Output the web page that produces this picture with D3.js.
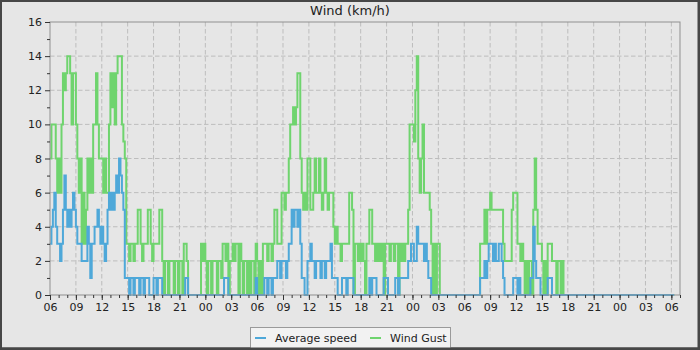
<!DOCTYPE html>
<html lang="en">
<head>
  <meta charset="UTF-8">
  <title>Wind (km/h)</title>
  <script src="https://d3js.org/d3.v7.min.js"></script>
  <style>
    body { margin: 0; }
    svg { display: block; font-family: "DejaVu Sans", sans-serif; }
    .tick text { font-size: 11px; fill: #222; }
    .tick line { stroke: #333; }
    .grid { stroke: #bdbdbd; stroke-width: 1; stroke-dasharray: 4.5,2.5; }
  </style>
</head>
<body>
<svg id="chart" width="700" height="350"></svg>
<script>
// samples every 10 minutes, starting 06:00 on day 1
const startTime = new Date(2024, 0, 1, 6, 0);
const endTime = new Date(2024, 0, 4, 7, 0);
const stepMinutes = 10;

const chartTitle = "Wind (km/h)";
const seriesNames = ["Average speed", "Wind Gust"];
const yTicks = [0, 2, 4, 6, 8, 10, 12, 14, 16];
const yMinorTicks = [1, 3, 5, 7, 9, 11, 13, 15];

// average speed, one row = 6 hours (6 samples per hour)
const avgSpeed = [
  3,4,5,6,4,3, 3,2,3,5,7,5, 4,5,4,5,6,5, 4,3,3,3,2,2, 2,2,4,3,1,3, 3,4,4,5,4,3,   // 06-12
  4,3,2,3,5,6, 5,6,5,6,7,6, 8,7,6,5,1,1, 1,0,1,1,0,1, 1,1,0,1,1,0, 1,1,1,0,0,0,   // 12-18
  1,1,0,1,1,1, 0,0,0,0,0,0, 0,0,0,0,0,0, 0,0,0,0,1,1, 0,0,0,0,0,0, 0,0,0,0,0,0,   // 18-00
  0,0,0,0,0,0, 0,0,0,0,0,0, 0,1,1,1,0,0, 0,0,0,0,0,0, 0,0,0,0,0,0, 0,0,0,0,0,1,   // 00-06
  0,0,0,0,0,1, 1,0,1,1,0,1, 1,1,2,2,1,2, 2,2,1,2,3,3, 5,4,5,5,4,5, 3,1,1,0,0,2,   // 06-12
  2,3,2,2,1,2, 2,2,1,2,2,1, 2,2,2,3,1,1, 1,1,0,0,0,1, 1,1,0,1,1,1, 1,0,0,0,0,0,   // 12-18
  0,0,0,0,0,0, 1,0,1,1,1,0, 0,0,0,0,1,1, 1,0,0,0,0,0, 1,1,0,1,1,1, 1,1,1,2,2,3,   // 18-00
  3,2,2,4,3,3, 3,3,2,3,2,1, 1,0,0,0,0,0, 0,0,0,0,0,0, 0,0,0,0,0,0, 0,0,0,0,0,0,   // 00-06
  0,0,0,0,0,0, 0,0,0,0,0,1, 1,1,2,1,2,3, 3,3,2,3,2,2, 3,3,2,1,0,0, 0,0,0,0,1,1,   // 06-12
  1,0,1,0,0,0, 0,0,0,0,1,1, 4,2,1,1,1,0, 0,0,0,0,1,1, 1,0,0,0,0,0, 0,0,0,0,0,0,   // 12-18
  0,0,0,0,0,0, 0,0,0,0,0,0, 0,0,0,0,0,0, 0,0,0,0,0,0, 0,0,0,0,0,0, 0,0,0,0,0,0,   // 18-00
  0,0,0,0,0,0, 0,0,0,0,0,0, 0,0,0,0,0,0, 0,0,0,0,0,0, 0,0,0,0,0,0, 0,0,0,0,0,0,   // 00-06
  0,0,0
];

// wind gust, same timing
const windGust = [
  8,10,10,10,8,6, 8,6,10,13,12,13, 14,14,13,10,13,13, 10,8,6,8,3,6, 3,5,8,6,8,6, 10,10,13,10,8,8,   // 06-12
  8,6,8,6,6,10, 13,11,13,10,13,14, 14,14,10,9,8,3, 3,2,3,3,2,3, 3,5,5,3,2,3, 3,3,5,5,3,2,          // 12-18
  3,3,3,3,5,5, 2,0,2,2,0,2, 2,2,0,2,2,0, 2,2,0,3,3,2, 0,0,0,0,0,0, 0,0,0,3,2,3,                    // 18-00
  2,0,2,2,0,2, 2,2,0,2,2,1, 3,3,2,3,0,2, 2,3,2,3,3,0, 3,2,0,2,2,0, 2,0,2,2,0,3,                    // 00-06
  2,0,2,0,3,3, 3,2,3,3,2,3, 5,5,3,3,3,6, 6,5,6,6,8,10, 10,11,10,11,13,13, 8,6,5,6,5,8,             // 06-12
  8,5,5,6,8,6, 6,8,6,5,6,8, 6,5,6,6,6,4, 3,4,3,3,2,3, 3,3,3,3,6,6, 5,0,3,3,2,3,                    // 12-18
  2,3,2,0,3,3, 5,5,3,3,2,3, 2,3,2,3,0,3, 3,3,2,3,3,2, 3,3,0,3,2,3, 2,3,3,5,10,10,                  // 18-00
  10,9,12,14,8,6, 8,10,6,6,6,6, 5,3,0,3,0,3, 3,0,0,0,0,0, 0,0,0,0,0,0, 0,0,0,0,0,0,                // 00-06
  0,0,0,0,0,0, 0,0,0,0,0,3, 3,3,5,3,5,5, 6,5,5,5,5,5, 5,5,5,3,2,2, 2,2,2,5,6,6,                    // 06-12
  6,3,3,2,3,2, 0,2,0,2,2,0, 5,8,5,3,3,3, 2,0,2,0,3,3, 3,2,2,2,0,2, 2,0,2,0,0,0,                    // 12-18
  0,0,0,0,0,0, 0,0,0,0,0,0, 0,0,0,0,0,0, 0,0,0,0,0,0, 0,0,0,0,0,0, 0,0,0,0,0,0,                    // 18-00
  0,0,0,0,0,0, 0,0,0,0,0,0, 0,0,0,0,0,0, 0,0,0,0,0,0, 0,0,0,0,0,0, 0,0,0,0,0,0,                    // 00-06
  0,0,0
];

const colors = { avg: "#4ea8d9", gust: "#6fd46e" };

const width = 700, height = 350;
const plot = { left: 50, right: 680, top: 22, bottom: 295 };

const svg = d3.select("#chart");

// frame + background
svg.append("rect").attr("width", width).attr("height", height).attr("fill", "#474747");
svg.append("rect").attr("x", 2).attr("y", 2).attr("width", 695.5).attr("height", 345.5).attr("fill", "#e6e6e6");

const x = d3.scaleTime().domain([startTime, endTime]).range([plot.left, plot.right]);
const y = d3.scaleLinear().domain([0, 16]).range([plot.bottom, plot.top]);

const timeAt = i => new Date(startTime.getTime() + i * stepMinutes * 60000);

// grid
const grid = svg.append("g");
grid.selectAll(".gx")
  .data(x.ticks(d3.timeHour.every(3)).filter(d => x(d) > plot.left + 1))
  .enter().append("line")
  .attr("class", "grid")
  .attr("x1", d => x(d)).attr("x2", d => x(d))
  .attr("y1", plot.top).attr("y2", plot.bottom);
grid.selectAll(".gy")
  .data(yTicks.filter(v => v > 0 && v < 16))
  .enter().append("line")
  .attr("class", "grid")
  .attr("x1", plot.left).attr("x2", plot.right)
  .attr("y1", d => y(d)).attr("y2", d => y(d));

// clip for lines
svg.append("clipPath").attr("id", "plotClip")
  .append("rect")
  .attr("x", plot.left).attr("y", plot.top - 2)
  .attr("width", plot.right - plot.left).attr("height", plot.bottom - plot.top + 4);

const line = d3.line()
  .x((d, i) => x(timeAt(i)))
  .y(d => y(d))
  .curve(d3.curveStepAfter);

const lines = svg.append("g").attr("clip-path", "url(#plotClip)");
lines.append("path")
  .datum(windGust)
  .attr("fill", "none")
  .attr("stroke", colors.gust)
  .attr("stroke-width", 2)
  .attr("d", line);
lines.append("path")
  .datum(avgSpeed)
  .attr("fill", "none")
  .attr("stroke", colors.avg)
  .attr("stroke-width", 2)
  .attr("d", line);

// plot border
svg.append("rect")
  .attr("x", plot.left).attr("y", plot.top)
  .attr("width", plot.right - plot.left).attr("height", plot.bottom - plot.top)
  .attr("fill", "none").attr("stroke", "#8f8f8f");

// axes
const xAxis = svg.append("g")
  .attr("transform", `translate(0,${plot.bottom})`)
  .call(d3.axisBottom(x).ticks(d3.timeHour.every(3)).tickFormat(d3.timeFormat("%H")).tickSize(5).tickSizeOuter(0));
const xMinor = svg.append("g")
  .attr("transform", `translate(0,${plot.bottom})`)
  .call(d3.axisBottom(x).ticks(d3.timeHour.every(1)).tickFormat("").tickSize(3).tickSizeOuter(0));
const yAxis = svg.append("g")
  .attr("transform", `translate(${plot.left},0)`)
  .call(d3.axisLeft(y).tickValues(yTicks).tickSize(5).tickSizeOuter(0));
const yMinor = svg.append("g")
  .attr("transform", `translate(${plot.left},0)`)
  .call(d3.axisLeft(y).tickValues(yMinorTicks).tickFormat("").tickSize(3).tickSizeOuter(0));

[xAxis, xMinor, yAxis, yMinor].forEach(g => {
  g.select(".domain").remove();
  g.attr("font-family", null).attr("font-size", null);
});

// title
svg.append("text")
  .attr("x", 350).attr("y", 15)
  .attr("text-anchor", "middle")
  .attr("font-size", 13)
  .attr("fill", "#222")
  .text(chartTitle);

// legend
const legend = svg.append("g");
legend.append("rect")
  .attr("x", 250.5).attr("y", 327.5).attr("width", 200).attr("height", 22)
  .attr("fill", "#f2f2f2").attr("stroke", "#9a9a9a");
const legendItems = [
  { name: seriesNames[0], color: colors.avg, x: 255 },
  { name: seriesNames[1], color: colors.gust, x: 370 }
];
legendItems.forEach(it => {
  legend.append("line")
    .attr("x1", it.x).attr("x2", it.x + 11)
    .attr("y1", 338).attr("y2", 338)
    .attr("stroke", it.color).attr("stroke-width", 2);
  legend.append("text")
    .attr("x", it.x + 20).attr("y", 342)
    .attr("font-size", 11).attr("fill", "#222")
    .text(it.name);
});
// bottom border drawn over legend
svg.append("rect").attr("x", 0).attr("y", 347.5).attr("width", width).attr("height", 2.5).attr("fill", "#474747");
</script>
</body>
</html>
